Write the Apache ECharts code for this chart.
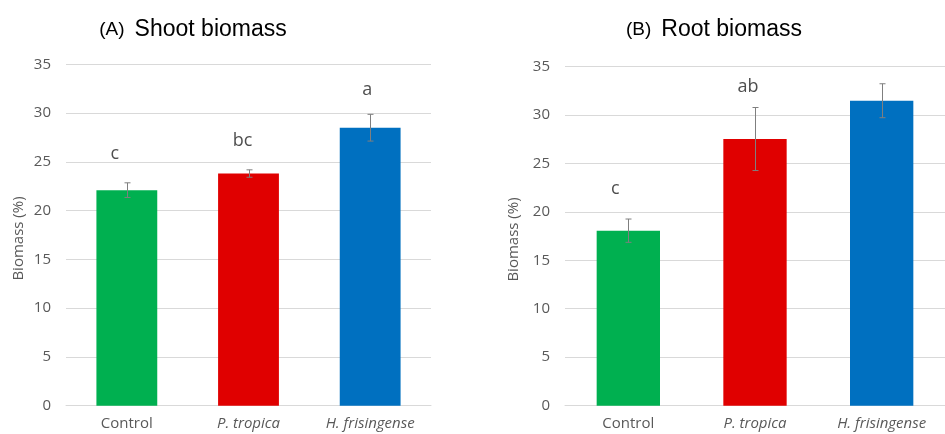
<!DOCTYPE html>
<html><head><meta charset="utf-8">
<script src="https://cdn.jsdelivr.net/npm/echarts@6/dist/echarts.min.js"></script>
<style>html,body{margin:0;padding:0;background:#fff}#c{width:945px;height:434px}</style>
</head><body><div id="c"></div>
<script>
// ---- data ----
const categories = ['Control', 'P. tropica', 'H. frisingense'];
const italicCats = [false, true, true];
const yTicks = [0, 5, 10, 15, 20, 25, 30, 35];
const shootValues = [22.1, 23.8, 28.5];
const shootErr = [0.75, 0.38, 1.37];
const shootLetters = ['c', 'bc', 'a'];
const shootLetterY = [25.8, 27.2, 32.4];
const rootValues = [18.05, 27.5, 31.45];
const rootErr = [1.2, 3.25, 1.75];
const rootLetters = ['c', 'ab', 'a'];
const rootLetterY = [22.4, 32.9, 35.1];
const barColors = ['#00B050', '#E00000', '#0070C0'];

const chart = echarts.init(document.getElementById('c'), null, {renderer: 'canvas'});
const tickFont = 'Open Sans';
const grey = '#595959';
const letterDxA = [-12, -6, -3];
const letterDxB = [-13, -7, -3];

function xAxisFor(gi) {
  return {
    type: 'category', gridIndex: gi,
    data: categories.map((c, i) => ({value: c, textStyle: {fontStyle: italicCats[i] ? 'italic' : 'normal'}})),
    axisLine: {show: true, lineStyle: {color: '#d9d9d9', width: 1}},
    axisTick: {show: false},
    axisLabel: {color: grey, fontFamily: tickFont, fontSize: 15, margin: 11, interval: 0, hideOverlap: false}
  };
}
function yAxisFor(gi, gap) {
  return {
    type: 'value', gridIndex: gi, min: yTicks[0], max: yTicks[yTicks.length - 1], interval: yTicks[1] - yTicks[0],
    name: 'Biomass (%)', nameLocation: 'middle', nameGap: gap,
    nameTextStyle: {color: grey, fontFamily: tickFont, fontSize: 15, padding: [0, 7, 0, 0]},
    axisLine: {show: false}, axisTick: {show: false},
    axisLabel: {color: grey, fontFamily: tickFont, fontSize: 15, margin: 15},
    splitLine: {lineStyle: {color: '#d9d9d9', width: 1}}
  };
}
function barSeries(gi, vals) {
  return {
    type: 'bar', xAxisIndex: gi, yAxisIndex: gi, barWidth: '50%',
    data: vals.map((v, i) => ({value: v, itemStyle: {color: barColors[i]}})),
    silent: true, animation: false
  };
}
function errSeries(gi, vals, errs) {
  return {
    type: 'custom', xAxisIndex: gi, yAxisIndex: gi, silent: true, animation: false, z: 5,
    data: vals.map((v, i) => [i, v - errs[i], v + errs[i]]),
    renderItem: function (params, api) {
      const lo = api.coord([api.value(0), api.value(1)]);
      const hi = api.coord([api.value(0), api.value(2)]);
      const x = Math.round(lo[0]) + 0.5, hw = 3;
      const st = {stroke: '#7f7f7f', lineWidth: 1};
      return {type: 'group', children: [
        {type: 'line', shape: {x1: x, y1: hi[1], x2: x, y2: lo[1]}, style: st},
        {type: 'line', shape: {x1: x - hw, y1: hi[1], x2: x + hw, y2: hi[1]}, style: st},
        {type: 'line', shape: {x1: x - hw, y1: lo[1], x2: x + hw, y2: lo[1]}, style: st}
      ]};
    }
  };
}
function letterSeries(gi, letters, ys, dx) {
  return {
    type: 'scatter', xAxisIndex: gi, yAxisIndex: gi, symbolSize: 0, silent: true, animation: false,
    data: ys.map((y, i) => ({value: [i, y], name: letters[i], label: {offset: [dx[i], 0]}})),
    label: {show: true, position: 'inside', formatter: p => p.name, color: '#222222', fontFamily: tickFont, fontSize: 18}
  };
}
const titleRich = {
  p: {fontFamily: 'Liberation Sans', fontSize: 19, color: '#000', fontWeight: 'normal'},
  t: {fontFamily: 'Liberation Sans', fontSize: 23, color: '#000', fontWeight: 'normal'}
};

chart.setOption({
  animation: false,
  title: [
    {text: '{p|(A)}  {t|Shoot biomass}', left: 188, top: 13, textAlign: 'center', textStyle: {fontWeight: 'normal', rich: titleRich}},
    {text: '{p|(B)}  {t|Root biomass}', left: 709, top: 13, textAlign: 'center', textStyle: {fontWeight: 'normal', rich: titleRich}}
  ],
  grid: [
    {left: 66, width: 365, top: 64.3, bottom: 28.3},
    {left: 565, width: 389, top: 66.3, bottom: 28.3}
  ],
  xAxis: [xAxisFor(0), xAxisFor(1)],
  yAxis: [yAxisFor(0, 40), yAxisFor(1, 44)],
  series: [
    barSeries(0, shootValues), errSeries(0, shootValues, shootErr), letterSeries(0, shootLetters, shootLetterY, letterDxA),
    barSeries(1, rootValues), errSeries(1, rootValues, rootErr), letterSeries(1, rootLetters, rootLetterY, letterDxB)
  ]
});
</script></body></html>
